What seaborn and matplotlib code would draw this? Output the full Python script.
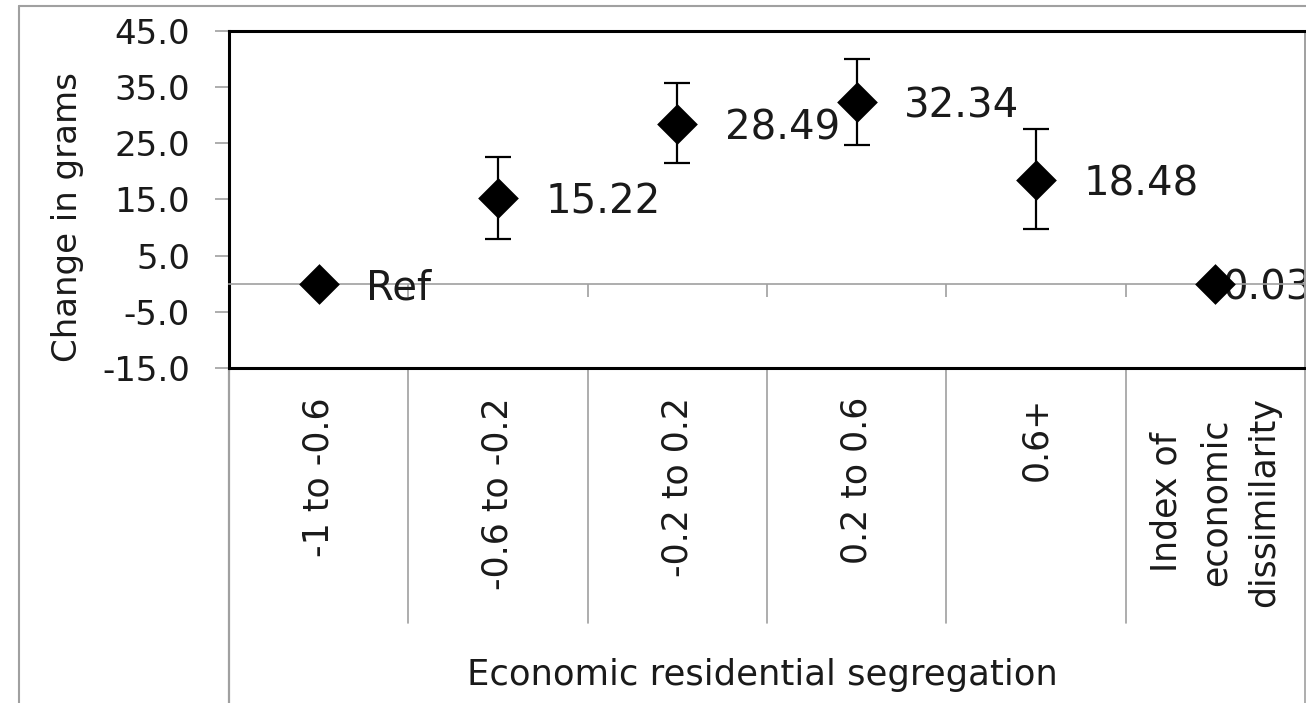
import numpy as np
import pandas as pd
import matplotlib
matplotlib.use("Agg")
import matplotlib.pyplot as plt
from matplotlib.lines import Line2D
import seaborn as sns

# ---- data -------------------------------------------------------------
categories = ["-1 to -0.6", "-0.6 to -0.2", "-0.2 to 0.2", "0.2 to 0.6",
              "0.6+", "Index of\neconomic\ndissimilarity"]
estimates = [0.0, 15.22, 28.49, 32.34, 18.48, 0.03]
ci_low = [np.nan, 7.9, 21.5, 24.7, 9.7, np.nan]
ci_high = [np.nan, 22.5, 35.8, 40.0, 27.6, np.nan]
reference_index = 0
y_ticks = [-15, -5, 5, 15, 25, 35, 45]
group_title = "Economic residential segregation"
y_title = "Change in grams"

df = pd.DataFrame({"category": categories, "estimate": estimates,
                   "low": ci_low, "high": ci_high})

# ---- styling ----------------------------------------------------------
sns.set_theme(style="white")
plt.rcParams["font.family"] = ["DejaVu Sans"]
TEXT = "#1a1a1a"
GRID = "#a0a0a0"

W, H = 1306, 703
fig = plt.figure(figsize=(W / 100, H / 100), dpi=100)
fig.patch.set_facecolor("white")

# plot area in pixel units (from top-left)
px_left, px_right, px_top, px_bottom = 229, 1305, 31, 368
ax = fig.add_axes([px_left / W, 1 - px_bottom / H,
                   (px_right - px_left) / W, (px_bottom - px_top) / H])

# markers
sns.scatterplot(data=df, x="category", y="estimate", marker="D", s=430,
                color="black", edgecolor="black", linewidth=0,
                ax=ax, zorder=4, legend=False)

# confidence intervals
has_ci = df["low"].notna()
pos = np.arange(len(df))
ax.errorbar(pos[has_ci], df.loc[has_ci, "estimate"],
            yerr=[df.loc[has_ci, "estimate"] - df.loc[has_ci, "low"],
                  df.loc[has_ci, "high"] - df.loc[has_ci, "estimate"]],
            fmt="none", ecolor="black", elinewidth=1.6, capsize=9.5,
            capthick=1.6, zorder=3)

# value labels
for i, v in enumerate(estimates):
    label = "Ref" if i == reference_index else f"{v:.2f}"
    last = i == len(estimates) - 1
    ax.annotate(label, (i, v), xytext=(5 if last else 34, 0),
                textcoords="offset points", ha="left",
                va="center_baseline", fontsize=29, color=TEXT,
                zorder=2 if last else 5, annotation_clip=False)

# axes limits and y ticks
ax.set_xlim(-0.5, len(categories) - 0.5)
ax.set_ylim(min(y_ticks), max(y_ticks))
ax.set_yticks(y_ticks)
ax.set_yticklabels([f"{t:.1f}" for t in y_ticks], fontsize=24.5, color=TEXT)
ax.tick_params(axis="y", direction="out", length=10, width=1.2,
               color=GRID, pad=18, left=True)

# horizontal axis drawn through zero, ticks at category boundaries
boundaries = np.arange(len(categories) - 1) + 0.5
ax.spines["bottom"].set_position(("data", 0))
ax.spines["bottom"].set_color(GRID)
ax.spines["bottom"].set_linewidth(1.2)
ax.set_xticks(boundaries)
ax.set_xticklabels([""] * len(boundaries))
ax.tick_params(axis="x", direction="out", length=9.5, width=1.2,
               color=GRID, bottom=True)
ax.set_xlabel("")
ax.set_ylabel("")

# plot-area frame
for side in ("top", "left"):
    ax.spines[side].set_color("black")
    ax.spines[side].set_linewidth(2.2)
ax.spines["right"].set_color(GRID)
ax.spines["right"].set_linewidth(1.2)
ax.add_line(Line2D([0, 1], [0, 0], transform=ax.transAxes, color="black",
                   lw=2.2, clip_on=False, zorder=6))

# category area below the plot
xt = ax.get_xaxis_transform()
sep_bottom = (px_bottom - 623) / (px_bottom - px_top)
fig_bottom = (px_bottom - H) / (px_bottom - px_top)
for b in boundaries:
    ax.add_line(Line2D([b, b], [0, sep_bottom], transform=xt, color=GRID,
                       lw=1.2, clip_on=False))
ax.add_line(Line2D([-0.5, -0.5], [0, fig_bottom], transform=xt, color=GRID,
                   lw=1.6, clip_on=False))
ax.add_line(Line2D([len(categories) - 0.5] * 2, [1, fig_bottom], transform=xt,
                   color=GRID, lw=1.2, clip_on=False))

label_top = (px_bottom - 397) / (px_bottom - px_top)
for i, c in enumerate(categories):
    ax.text(i, label_top, c, transform=xt, rotation=90, ha="center",
            va="top", multialignment="center", fontsize=25, color=TEXT,
            linespacing=1.55)

# titles
fig.text(762 / W, 1 - 685 / H, group_title, ha="center", va="baseline",
         fontsize=25.5, color=TEXT)
fig.text(67 / W, 1 - 217 / H, y_title, ha="center", va="center",
         rotation=90, fontsize=24.5, color=TEXT)

# outer chart border
fig.add_artist(Line2D([19 / W, 19 / W], [0, 1 - 6 / H],
                      transform=fig.transFigure, color=GRID, lw=1.5))
fig.add_artist(Line2D([19 / W, 1], [1 - 6 / H, 1 - 6 / H],
                      transform=fig.transFigure, color=GRID, lw=1.5))

fig.savefig("out.png", dpi=100, facecolor="white")
